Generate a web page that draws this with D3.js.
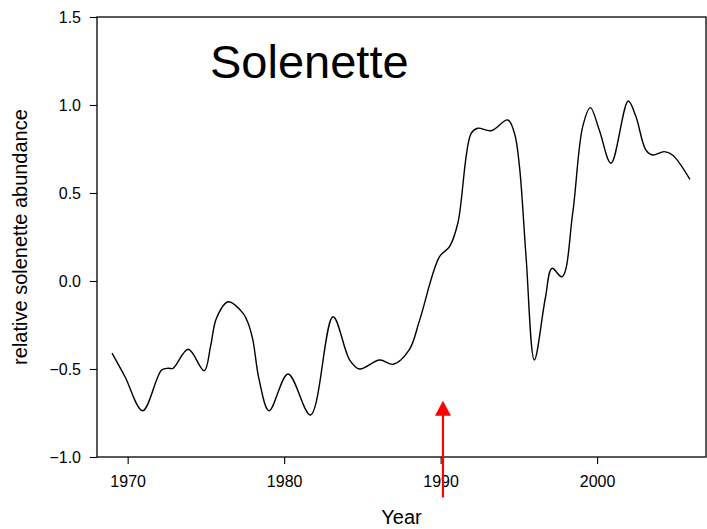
<!DOCTYPE html>
<html>
<head>
<meta charset="utf-8">
<script src="https://cdn.jsdelivr.net/npm/d3@7"></script>
<style>
html,body{margin:0;padding:0;background:#fff;}
svg{display:block;font-family:Arial,"Liberation Sans",Helvetica,sans-serif;}
</style>
</head>
<body>
<svg id="chart" width="707" height="529"></svg>
<script>
const years = [1969.0,1969.83,1970.96,1972.17,1972.6,1972.9,1973.87,1974.89,1975.3,1975.68,1976.42,1977.38,1977.7,1978.0,1978.4,1979.04,1980.25,1981.68,1983.12,1984.19,1984.82,1986.1,1986.99,1988.0,1988.65,1989.93,1990.57,1991.1,1991.95,1992.37,1993.23,1994.29,1994.72,1995.04,1995.46,1995.99,1996.69,1997.12,1997.76,1998.44,1999.08,1999.57,2000.14,2000.89,2001.99,2002.48,2003.12,2003.54,2004.29,2004.82,2005.93];
const abundance = [-0.41,-0.544,-0.737,-0.506,-0.496,-0.496,-0.388,-0.51,-0.37,-0.21,-0.118,-0.184,-0.24,-0.335,-0.56,-0.737,-0.528,-0.761,-0.203,-0.449,-0.5,-0.449,-0.473,-0.39,-0.225,0.138,0.195,0.328,0.839,0.868,0.854,0.915,0.839,0.65,0.138,-0.449,-0.098,0.072,0.024,0.385,0.877,0.985,0.858,0.669,1.023,0.934,0.744,0.716,0.735,0.716,0.578];
const xTicks = [1970,1980,1990,2000];
const yTicks = [-1.0,-0.5,0.0,0.5,1.0,1.5];
const arrowYear = 1990.15;
const arrowFrom = -1.23;
const arrowTo = -0.68;
const title = "Solenette";
const xTitle = "Year";
const yTitle = "relative solenette abundance";

const svg = d3.select("#chart");
const L = 97, R = 706, T = 17, B = 457;
const x = d3.scaleLinear().domain([1968.04, 2006.96]).range([L, R]);
const y = d3.scaleLinear().domain([-1.0, 1.5]).range([B, T]);

// frame
svg.append("rect").attr("x", L).attr("y", T).attr("width", R - L).attr("height", B - T)
  .attr("fill", "none").attr("stroke", "#000").attr("stroke-width", 1.3);

// axes
const yAxis = d3.axisLeft(y).tickValues(yTicks).tickFormat(d3.format(".1f")).tickSize(7).tickPadding(9);
const gy = svg.append("g").attr("transform", `translate(${L},0)`).call(yAxis);
gy.select(".domain").remove();
gy.selectAll("line").attr("stroke", "#000").attr("stroke-width", 1.1);
gy.selectAll("text").attr("font-size", 16).attr("fill", "#000")
  .attr("font-family", "Arial, 'Liberation Sans', sans-serif");

const xAxis = d3.axisBottom(x).tickValues(xTicks).tickFormat(d3.format("d")).tickSize(7).tickPadding(12);
const gx = svg.append("g").attr("transform", `translate(0,${B})`).call(xAxis);
gx.select(".domain").remove();
gx.selectAll("line").attr("stroke", "#000").attr("stroke-width", 1.1);
gx.selectAll("text").attr("font-size", 16).attr("fill", "#000")
  .attr("font-family", "Arial, 'Liberation Sans', sans-serif");

// axis titles
svg.append("text").attr("x", (L + R) / 2).attr("y", 524).attr("text-anchor", "middle")
  .attr("font-size", 20).attr("fill", "#000").text(xTitle);
svg.append("text").attr("transform", `translate(27,${(T + B) / 2}) rotate(-90)`)
  .attr("text-anchor", "middle").attr("font-size", 20).attr("fill", "#000").text(yTitle);

// chart title
svg.append("text").attr("x", 210).attr("y", 78).attr("font-size", 47).attr("fill", "#000").text(title);

// data line
const data = years.map((d, i) => ({year: d, v: abundance[i]}));
const line = d3.line().x(d => x(d.year)).y(d => y(d.v)).curve(d3.curveCatmullRom.alpha(0.5));
svg.append("path").datum(data).attr("d", line).attr("fill", "none")
  .attr("stroke", "#000").attr("stroke-width", 1.4);

// red arrow
const ax = x(arrowYear);
const tipY = y(arrowTo);
const headLen = 15, headHalf = 8;
svg.append("line").attr("x1", ax).attr("x2", ax).attr("y1", y(arrowFrom)).attr("y2", tipY + headLen - 1)
  .attr("stroke", "#ff0000").attr("stroke-width", 2.2);
svg.append("path")
  .attr("d", `M${ax},${tipY} L${ax - headHalf},${tipY + headLen} L${ax + headHalf},${tipY + headLen} Z`)
  .attr("fill", "#ff0000");
</script>
</body>
</html>
